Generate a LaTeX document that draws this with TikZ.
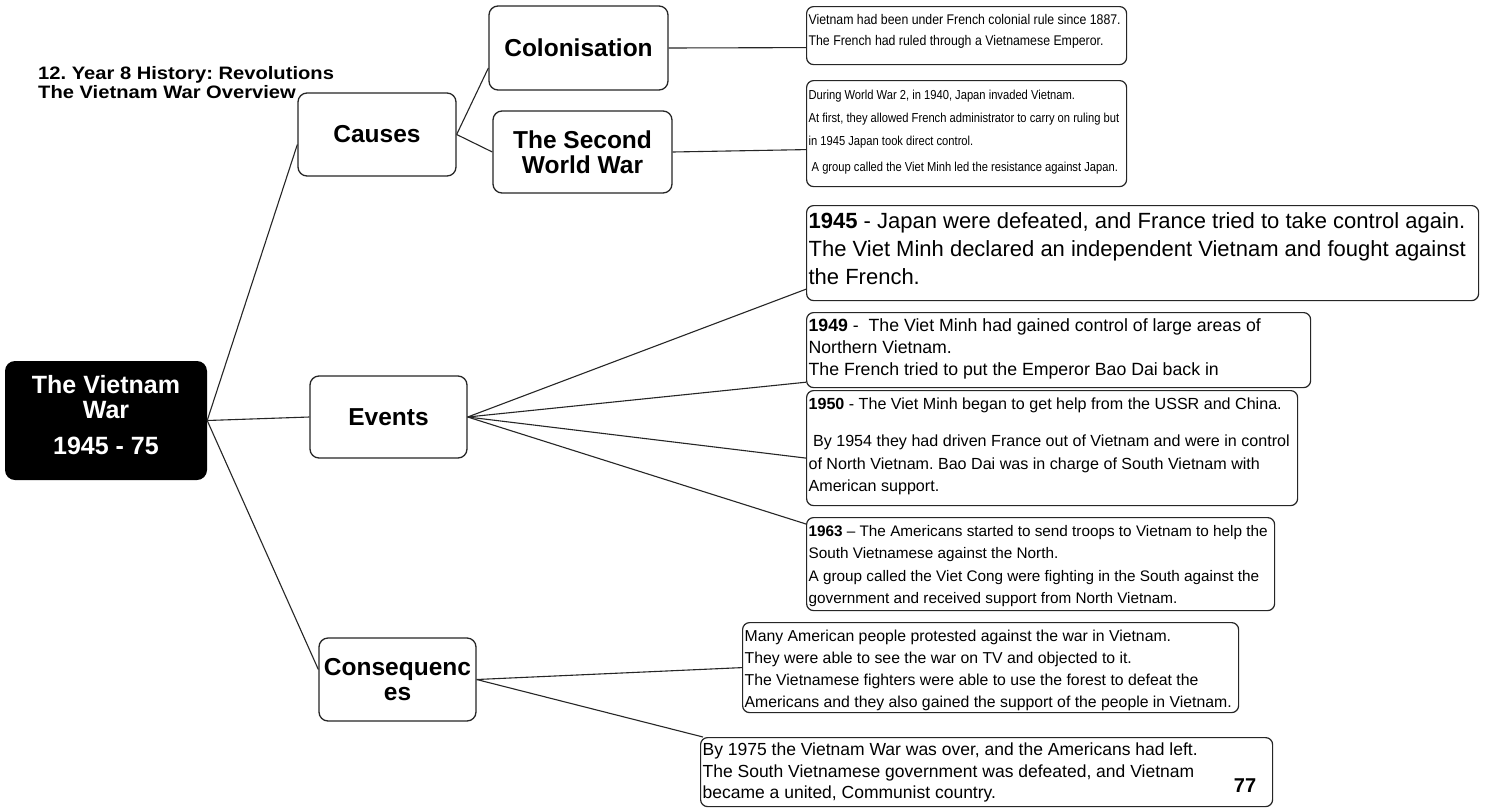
\documentclass[tikz,border=0pt]{standalone}
\usepackage{fontspec}
\setmainfont{Liberation Sans}
\newfontfamily\narrowfont[FakeStretch=0.88]{Liberation Sans}
\newfontfamily\narrowerfont[FakeStretch=0.86]{Liberation Sans}
\newfontfamily\widefont[FakeStretch=1.12]{Liberation Sans}
\usetikzlibrary{positioning}
\frenchspacing

% text block of a note: fixed height, lines start at the top, no wrapping
\newcommand{\notebody}[3]{\parbox[t][#1][t]{#2}{\raggedright
    \rightskip=0pt plus 1fil minus 100pt\strut #3}}

\begin{document}
\begin{tikzpicture}[
    x=1pt, y=-1pt, line join=round,
    topic/.style={draw=black!85, line width=1.3pt, rounded corners=9pt,
      align=center, inner sep=0pt, font=\bfseries\fontsize{24.5}{25}\selectfont},
    note/.style={draw=black!85, line width=1.2pt, rounded corners=7pt,
      anchor=north west, inner xsep=2pt, inner ysep=3pt},
    link/.style={black!85, line width=1.1pt}
  ]

  % ------------------ Canvas ------------------
  \path[use as bounding box, fill=white] (0,0) rectangle (1485,809);

  % ------------------ Title ------------------
  \node[anchor=north west, align=left, inner sep=0pt,
    font=\widefont\bfseries\fontsize{18}{19}\selectfont] (title) at (38,66)
    {12. Year 8 History: Revolutions\\The Vietnam War Overview};

  % ------------------ Central topic ------------------
  \node[fill=black, text=white, rounded corners=10pt, minimum width=202pt,
    minimum height=119pt, align=center, inner sep=0pt,
    font=\bfseries\fontsize{25}{25}\selectfont] (war) at (106,420.5)
    {The Vietnam\\War\\[11pt]1945 - 75\\[-13pt]\mbox{}};

  % ------------------ Main branches ------------------
  \node[topic, minimum width=158pt, minimum height=83pt] (causes)
    at (377,134.5) {Causes};
  \node[topic, minimum width=157pt, minimum height=82pt] (events)
    at (388.5,417) {Events};
  \node[topic, minimum width=157pt, minimum height=83pt] (conseq)
    at (397.5,679.5) {Consequenc\\es};

  % ------------------ Causes ------------------
  \node[topic, minimum width=179pt, minimum height=84pt] (colon)
    at (578.5,48) {Colonisation};
  \node[topic, minimum width=179pt, minimum height=82pt] (wwii)
    at (582.5,152) {The Second\\World War};

  \node[note, font=\narrowfont\fontsize{14}{21}\selectfont] (colonNote) at (806,6)
    {\notebody{52pt}{316pt}{Vietnam had been under French colonial rule since 1887.\\
    The French had ruled through a Vietnamese Emperor.}};

  \node[note, font=\narrowerfont\fontsize{13}{23}\selectfont] (wwiiNote) at (806,80)
    {\notebody{100pt}{316pt}{During World War 2, in 1940, Japan invaded Vietnam.\\
    At first, they allowed French administrator to carry on ruling but\\
    in 1945 Japan took direct control.\\[3pt]
    ~A group called the Viet Minh led the resistance against Japan.}};

  % ------------------ Events ------------------
  \node[note, font=\fontsize{22}{28}\selectfont] (ev1945) at (806,205)
    {\notebody{89pt}{668pt}{\textbf{1945} - Japan were defeated, and France tried to take control again.\\
    The Viet Minh declared an independent Vietnam and fought against\\
    the French.}};

  \node[note, font=\fontsize{17.7}{22}\selectfont] (ev1949) at (806,312)
    {\notebody{69pt}{500pt}{\textbf{1949} -~ The Viet Minh had gained control of large areas of\\
    Northern Vietnam.\\
    The French tried to put the Emperor Bao Dai back in}};

  \node[note, font=\fontsize{16.1}{22.5}\selectfont] (ev1950) at (806,390)
    {\notebody{109pt}{487pt}{\textbf{1950} - The Viet Minh began to get help from the USSR and China.\\[15pt]
    ~By 1954 they had driven France out of Vietnam and were in control\\
    of North Vietnam. Bao Dai was in charge of South Vietnam with\\
    American support.}};

  \node[note, font=\fontsize{15.3}{22.5}\selectfont] (ev1963) at (806,517)
    {\notebody{87pt}{464pt}{\textbf{1963} – The Americans started to send troops to Vietnam to help the\\
    South Vietnamese against the North.\\
    A group called the Viet Cong were fighting in the South against the\\
    government and received support from North Vietnam.}};

  % ------------------ Consequences ------------------
  \node[note, font=\fontsize{15.8}{22}\selectfont] (protestNote) at (742,622)
    {\notebody{84pt}{492pt}{Many American people protested against the war in Vietnam.\\
    They were able to see the war on TV and objected to it.\\
    The Vietnamese fighters were able to use the forest to defeat the\\
    Americans and they also gained the support of the people in Vietnam.}};

  \node[note, font=\fontsize{17.5}{21.5}\selectfont] (unitedNote) at (700,737)
    {\notebody{63pt}{568pt}{By 1975 the Vietnam War was over, and the Americans had left.\\
    The South Vietnamese government was defeated, and Vietnam\\
    became a united, Communist country.}};

  \node[font=\bfseries\fontsize{20}{22}\selectfont, inner sep=0pt] (pageNo)
    at (1245,786) {77};

  % ------------------ Connectors ------------------
  \draw[link] (war.east) -- ([yshift=-10pt]causes.west);
  \draw[link] (war.east) -- (events.west);
  \draw[link] (war.east) -- ([yshift=10pt]conseq.west);

  \draw[link] (causes.east) -- ([yshift=-20pt]colon.west);
  \draw[link] (causes.east) -- (wwii.west);
  \draw[link] (colon.east) -- ([yshift=-12pt]colonNote.west);
  \draw[link] (wwii.east) -- ([yshift=-16pt]wwiiNote.west);

  \draw[link] (events.east) -- ([yshift=12pt]ev1945.south west);
  \draw[link] (events.east) -- ([yshift=6pt]ev1949.south west);
  \draw[link] (events.east) -- ([yshift=-10pt]ev1950.west);
  \draw[link] (events.east) -- ([yshift=-7pt]ev1963.north west);

  \draw[link] (conseq.east) -- (protestNote.west);
  \draw[link] (conseq.east) -- ([xshift=3pt]unitedNote.north west);

\end{tikzpicture}
\end{document}
